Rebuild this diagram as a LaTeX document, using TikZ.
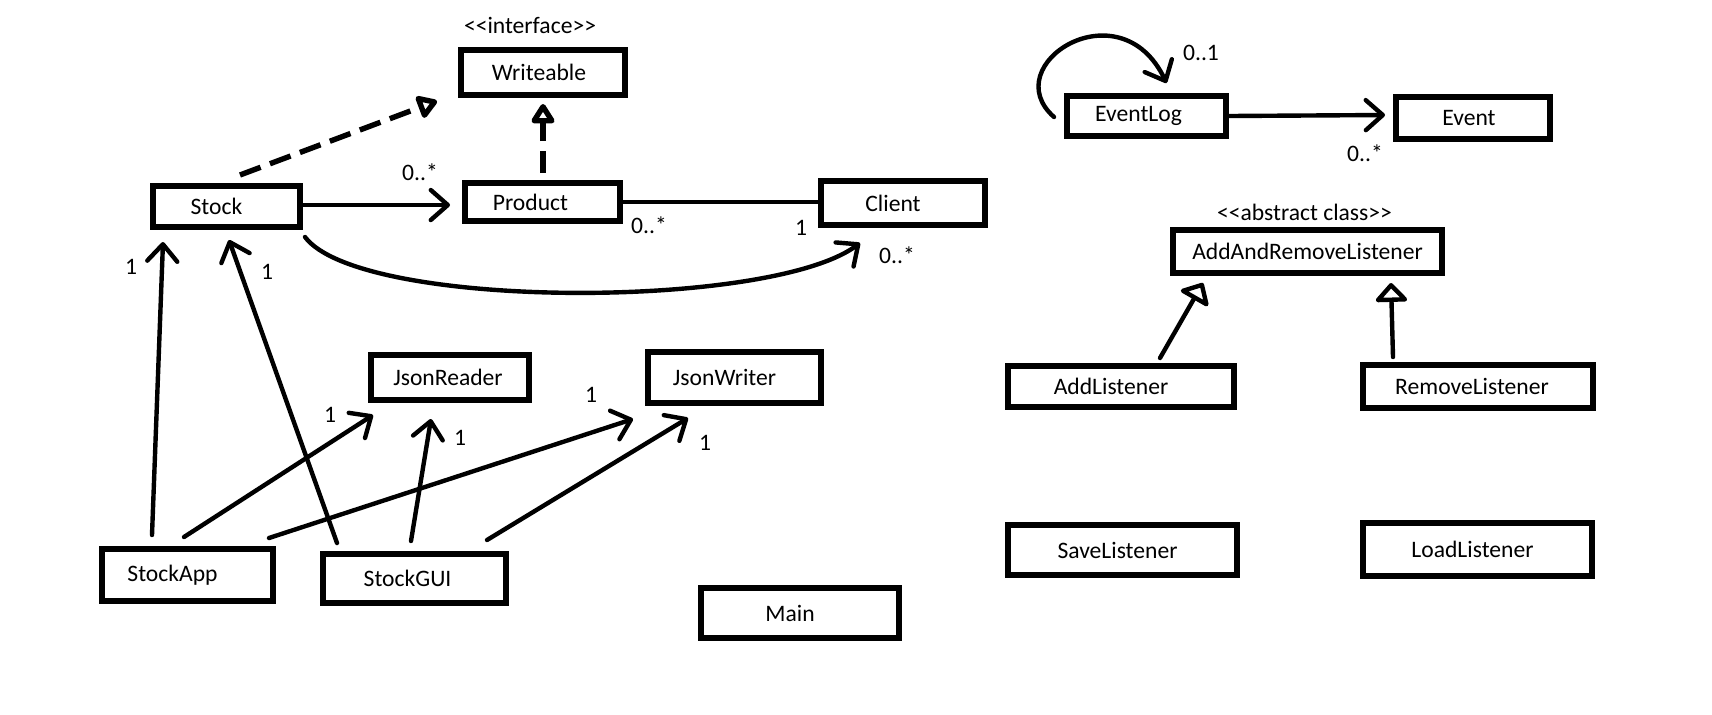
\documentclass[tikz,border=0pt]{standalone}
\usepackage{fontspec}
\setmainfont{Carlito}
\usetikzlibrary{arrows.meta,calc}
\tikzset{
  cls/.style={draw, line width=2.8pt, inner sep=0pt},
  lbl/.style={font=\fontsize{11.8}{14}\selectfont, inner sep=0pt},
  con/.style={line width=2.2pt, line cap=round, -{Straight Barb[length=8.5pt,width=15pt,round]}},
  assoc/.style={line width=2.2pt},
  real/.style={line width=2.7pt, dash pattern=on 11pt off 5pt, -{Triangle[open,length=11pt,width=13pt,round]}},
  gen/.style={line width=2.2pt, line cap=round, -{Triangle[open,length=10pt,width=18pt,round]}}
}
\begin{document}
\begin{tikzpicture}[x=0.5pt,y=-0.5pt]
\useasboundingbox (0,0) rectangle (1712,714);
\fill[white] (0,0) rectangle (1712,714);

% classes
\node[cls, minimum width=82.2pt, minimum height=22.7pt, label={[lbl,xshift=-2pt]center:Writeable}] (W) at (543,72.5) {};
\node[cls, minimum width=73.7pt, minimum height=20.7pt, label={[lbl,xshift=-5pt]center:Stock}] (Stock) at (226.5,206.5) {};
\node[cls, minimum width=77.7pt, minimum height=19.2pt, label={[lbl,xshift=-6pt]center:Product}] (Product) at (542.5,202) {};
\node[cls, minimum width=82.2pt, minimum height=22.2pt, label={[lbl,xshift=-5pt]center:Client}] (Client) at (903,203) {};
\node[cls, minimum width=79.7pt, minimum height=20.2pt, label={[lbl,xshift=-4pt]center:EventLog}] (EventLog) at (1146.5,116) {};
\node[cls, minimum width=77.2pt, minimum height=21.2pt, label={[lbl,xshift=-2pt]center:Event}] (Event) at (1473,118) {};
\node[cls, minimum width=134.7pt, minimum height=21.7pt, label={[lbl]center:AddAndRemoveListener}] (AARL) at (1307.5,251.5) {};
\node[cls, minimum width=113.2pt, minimum height=20.7pt, label={[lbl,xshift=-5pt]center:AddListener}] (AddL) at (1121,386.5) {};
\node[cls, minimum width=115.2pt, minimum height=21.7pt, label={[lbl,xshift=-3pt]center:RemoveListener}] (RemL) at (1478,386.5) {};
\node[cls, minimum width=79.2pt, minimum height=22.7pt, label={[lbl,xshift=-1pt]center:JsonReader}] (JR) at (450,377.5) {};
\node[cls, minimum width=86.7pt, minimum height=25.7pt, label={[lbl,xshift=-5pt]center:JsonWriter}] (JW) at (734.5,377.5) {};
\node[cls, minimum width=85.7pt, minimum height=26.2pt, label={[lbl,xshift=-7.5pt]center:StockApp}] (SApp) at (187.5,575) {};
\node[cls, minimum width=91.7pt, minimum height=24.7pt, label={[lbl,xshift=-3.5pt]center:StockGUI}] (SGUI) at (414.5,578.5) {};
\node[cls, minimum width=114.7pt, minimum height=25.2pt, label={[lbl,xshift=-2.5pt]center:SaveListener}] (SaveL) at (1122.5,550) {};
\node[cls, minimum width=114.7pt, minimum height=26.7pt, label={[lbl,xshift=-2.5pt]center:LoadListener}] (LoadL) at (1477.5,549.5) {};
\node[cls, minimum width=99.2pt, minimum height=25.2pt, label={[lbl,xshift=-5pt]center:Main}] (Main) at (800,613) {};

% stereotypes
\node[lbl] (stI) at (530,25) {<{}<interface>{}>};
\node[lbl] (stA) at (1304.5,212) {<{}<abstract class>{}>};

% realizations
\draw[real] ($(Stock)+(13.5,-31.5)$) -- ($(W)+(-106,28.5)$);
\draw[real] ($(Product)+(0.5,-29)$) -- ($(W)+(0,31.5)$);

% associations
\draw[con] ($(Stock)+(76.5,-1.5)$) -- ($(Product)+(-92.5,3)$);
\draw[assoc] (Product.east) -- (Product.east -| Client.west);
\draw[con] ($(Stock)+(78.5,30.5)$) .. controls ($(Stock)+(133.5,103.5)$) and ($(Client)+(-133,107)$) .. ($(Client)+(-43,40)$);
\draw[con] ($(SApp)+(-35.5,-40)$) -- ($(Stock)+(-63.5,35.5)$);
\draw[con] ($(SGUI)+(-77.5,-35.5)$) -- ($(Stock)+(2.5,33.5)$);
\draw[con] ($(SApp)+(-3.5,-38)$) -- ($(JR)+(-77,37.5)$);
\draw[con] ($(SApp)+(81.5,-37)$) -- ($(JW)+(-101.5,41.5)$);
\draw[con] ($(SGUI)+(-3.5,-37.5)$) -- ($(JR)+(-19,41.5)$);
\draw[con] ($(SGUI)+(72.5,-38.5)$) -- ($(JW)+(-46.5,40.5)$);
\draw[con] ($(EventLog)+(-92.5,1)$) .. controls ($(EventLog)+(-151.5,-51)$) and ($(EventLog)+(-26.5,-131)$) .. ($(EventLog)+(20,-33)$);
\draw[con] (EventLog.east) -- ($(Event)+(-88,-3)$);

% generalizations
\draw[gen] ($(AddL)+(39,-28.5)$) -- ($(AARL)+(-104.5,31.5)$);
\draw[gen] ($(RemL)+(-85,-29.5)$) -- ($(AARL)+(83.5,31.5)$);

% multiplicities
\node[lbl] (m1) at (420,172) {0..*};
\node[lbl] (m2) at (649,225) {0..*};
\node[lbl] (m3) at (801,228) {1};
\node[lbl] (m4) at (897,255) {0..*};
\node[lbl] (m5) at (131,267) {1};
\node[lbl] (m6) at (267,272) {1};
\node[lbl] (m7) at (330,415) {1};
\node[lbl] (m8) at (591,395) {1};
\node[lbl] (m9) at (460,438) {1};
\node[lbl] (m10) at (705,443) {1};
\node[lbl] (m11) at (1201,53) {0..1};
\node[lbl] (m12) at (1365,153) {0..*};
\end{tikzpicture}
\end{document}
